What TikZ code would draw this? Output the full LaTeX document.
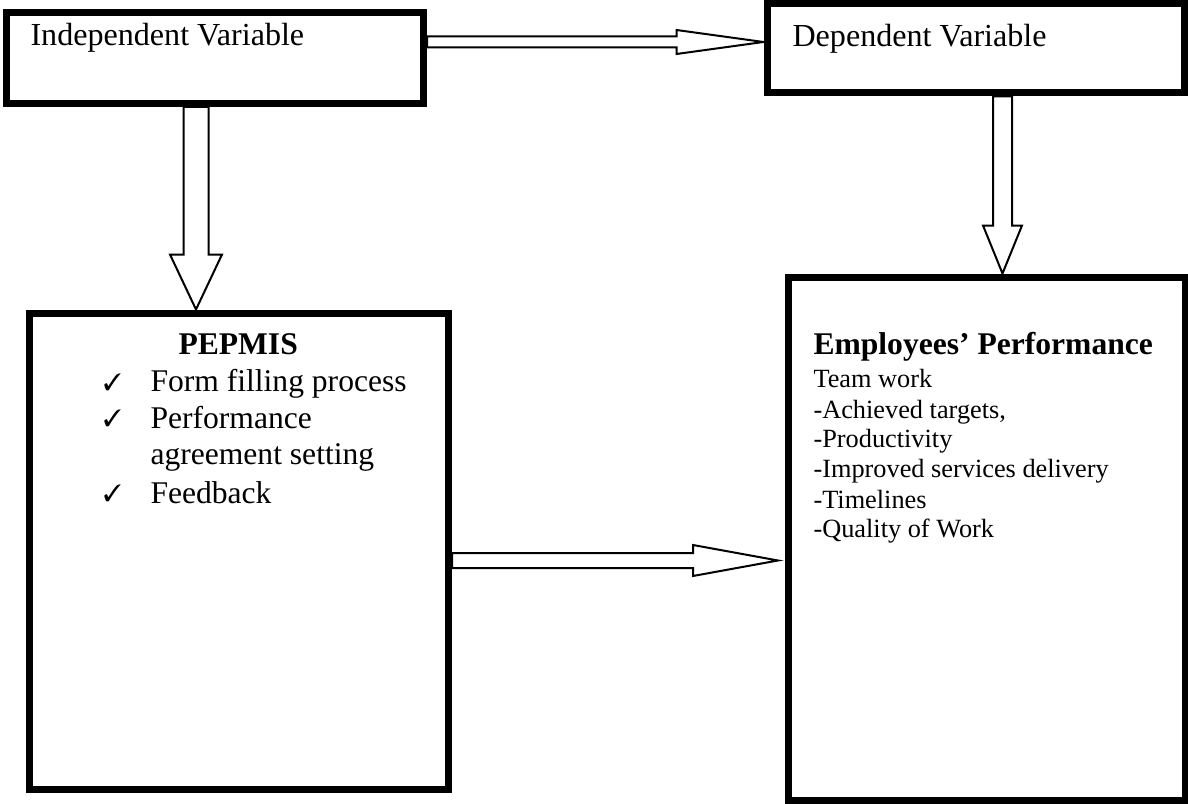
\documentclass[tikz,border=0pt]{standalone}
\usepackage{pifont}
\usepackage{fontspec}
\setmainfont{Liberation Serif}
\usetikzlibrary{calc}

\tikzset{
  varbox/.style n args={2}{draw, line width=2.66pt, minimum width=#1, minimum height=#2, inner sep=0pt},
  lbl/.style={anchor=base west, inner sep=0pt, font=\fontsize{12}{14}\selectfont},
  item/.style={anchor=base west, inner sep=0pt, font=\fontsize{10}{12}\selectfont},
  tick/.style={anchor=base west, inner sep=0pt, font=\fontsize{9}{11}\selectfont},
  % hollow block arrow: #1 shaft half width, #2 head half width, #3 head length (px)
  fatarrow/.style n args={3}{draw, line width=0.76pt, fill=white, line join=miter,
    to path={let \p1=(\tikztostart), \p2=(\tikztotarget) in
      ($(\p1)!{#1*0.38pt}!90:(\p2)$)
      -- ($(\p2)!{#3*0.38pt}!(\p1)!{#1*0.38pt}!-90:(\p1)$)
      -- ($(\p2)!{#3*0.38pt}!(\p1)!{#2*0.38pt}!-90:(\p1)$)
      -- (\p2)
      -- ($(\p2)!{#3*0.38pt}!(\p1)!{#2*0.38pt}!90:(\p1)$)
      -- ($(\p2)!{#3*0.38pt}!(\p1)!{#1*0.38pt}!90:(\p1)$)
      -- ($(\p1)!{#1*0.38pt}!-90:(\p2)$) -- cycle}}
}

\begin{document}
\begin{tikzpicture}[x=0.38pt,y=-0.38pt]
  \useasboundingbox (0,0) rectangle (1188,804);

  % top row: the two variable boxes
  \node[varbox={158.46pt}{34.58pt}] (indep) at (215,58) {};
  \node[lbl, font=\fontsize{12.2}{14}\selectfont] (indeplbl) at (30,46) {Independent Variable};

  \node[varbox={158.46pt}{33.82pt}] (dep) at (975.5,48.5) {};
  \node[lbl, font=\fontsize{12.2}{14}\selectfont] (deplbl) at (792,47) {Dependent Variable};

  % bottom row: PEPMIS and performance boxes
  \node[varbox={159.22pt}{180.88pt}] (pepmis) at (239,551) {};
  \node[lbl, font=\fontsize{12}{14}\selectfont\bfseries] (pepmistitle) at (178,355) {PEPMIS};
  \node[tick] (c1) at (103,391) {\ding{51}};
  \node[lbl] (f1) at (150,392) {Form filling process};
  \node[tick] (c2) at (103,427) {\ding{51}};
  \node[lbl] (f2) at (150,428) {Performance};
  \node[lbl] (f2b) at (150,465) {agreement setting};
  \node[tick] (c3) at (103,502) {\ding{51}};
  \node[lbl] (f3) at (150,503) {Feedback};

  \node[varbox={150.67pt}{198.93pt}] (perf) at (986.75,538.75) {};
  \node[lbl, font=\fontsize{12}{14}\selectfont\bfseries] (perftitle) at (813,355) {Employees’ Performance};
  \foreach \txt [count=\i] in {Team work, {-Achieved targets,}, -Productivity,
      -Improved services delivery, -Timelines, -Quality of Work}
    \node[item] (e\i) at (813,{388+30*(\i-1)}) {\txt};

  % connectors
  \coordinate (a1s) at ($(indep.east)+(0,-16)$);
  \draw[fatarrow={5.5}{12}{87}] (a1s) to (a1s -| dep.west);

  \coordinate (a2s) at ($(indep.south)+(-19,0)$);
  \draw[fatarrow={12.5}{26}{55}] (a2s) to (a2s |- pepmis.north);

  \coordinate (a3s) at ($(dep.south)+(27,0)$);
  \draw[fatarrow={9.5}{19.5}{48}] (a3s) to (a3s |- perf.north);

  \coordinate (a4s) at ($(pepmis.east)+(0,9.5)$);
  \coordinate (a4t) at ($(a4s -| perf.west)+(-7,0)$);
  \draw[fatarrow={7.5}{15.5}{85}] (a4s) to (a4t);
\end{tikzpicture}
\end{document}
